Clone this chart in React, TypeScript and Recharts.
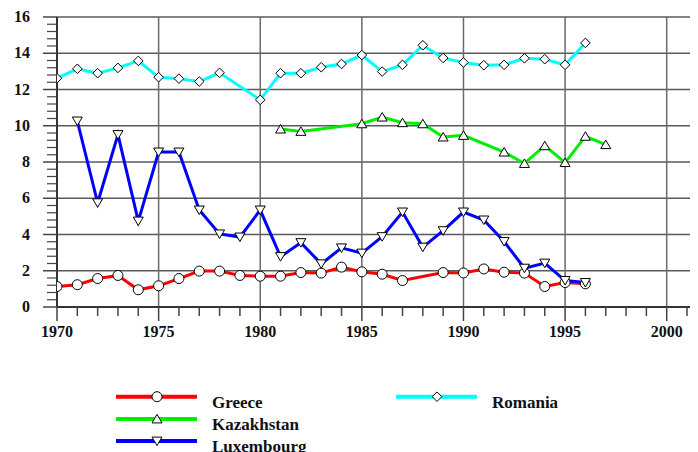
import React from "react";
import { LineChart, Line, XAxis, YAxis, ReferenceLine } from "recharts";

const years = [1970, 1971, 1972, 1973, 1974, 1975, 1976, 1977, 1978, 1979, 1980, 1981, 1982, 1983, 1984, 1985, 1986, 1987, 1988, 1989, 1990, 1991, 1992, 1993, 1994, 1995, 1996, 1997];
const greece = [1.13, 1.23, 1.57, 1.74, 0.95, 1.17, 1.57, 1.98, 1.98, 1.74, 1.7, 1.7, 1.9, 1.87, 2.2, 1.94, 1.81, 1.46, null, 1.9, 1.88, 2.1, 1.92, 1.87, 1.13, 1.35, 1.28, null];
const kazakhstan = [null, null, null, null, null, null, null, null, null, null, null, 9.82, 9.69, null, null, 10.11, 10.48, 10.17, 10.11, 9.38, 9.47, null, 8.55, 7.92, 8.9, 7.97, 9.42, 8.96];
const luxembourg = [null, 10.26, 5.75, 9.51, 4.74, 8.55, 8.55, 5.35, 4.03, 3.86, 5.35, 2.78, 3.55, 2.38, 3.26, 2.97, 3.88, 5.24, 3.3, 4.21, 5.24, 4.8, 3.61, 2.14, 2.42, 1.46, 1.35, null];
const romania = [12.62, 13.14, 12.9, 13.19, 13.58, 12.68, 12.6, 12.44, 12.92, null, 11.43, 12.9, 12.9, 13.23, 13.41, 13.9, 12.99, 13.36, 14.44, 13.74, 13.49, 13.34, 13.36, 13.72, 13.67, 13.36, 14.57, null];

const xMajorTicks = [1970, 1975, 1980, 1985, 1990, 1995, 2000];
const yMajorTicks = [0, 2, 4, 6, 8, 10, 12, 14, 16];

const data = years.map((year, i) => ({
  year,
  Greece: greece[i],
  Kazakhstan: kazakhstan[i],
  Luxembourg: luxembourg[i],
  Romania: romania[i],
}));

const xTicks: number[] = [];
for (let y = 1970; y <= 2004; y++) xTicks.push(y);
const yTicks: number[] = [];
for (let k = 0; k <= 40; k++) yTicks.push(Math.round(k * 4) / 10);

const FONT = '"Liberation Serif", "DejaVu Serif", serif';
const textStyle = { fontFamily: FONT, fontWeight: 700 } as const;

type MarkerKind = "circle" | "up" | "down" | "diamond";

function Marker({ kind, cx, cy }: { kind: MarkerKind; cx: number; cy: number }) {
  const common = { fill: "#fff", stroke: "#000", strokeWidth: 1 };
  if (kind === "circle") return <circle cx={cx} cy={cy} r={5} {...common} />;
  if (kind === "up")
    return <polygon points={`${cx},${cy - 4.5} ${cx - 5},${cy + 4} ${cx + 5},${cy + 4}`} {...common} />;
  if (kind === "down")
    return <polygon points={`${cx},${cy + 4.5} ${cx - 5},${cy - 4} ${cx + 5},${cy - 4}`} {...common} />;
  return <polygon points={`${cx},${cy - 4.8} ${cx + 4.8},${cy} ${cx},${cy + 4.8} ${cx - 4.8},${cy}`} {...common} />;
}

const series: { key: string; color: string; marker: MarkerKind }[] = [
  { key: "Greece", color: "#ff0000", marker: "circle" },
  { key: "Kazakhstan", color: "#00ee00", marker: "up" },
  { key: "Luxembourg", color: "#0000ff", marker: "down" },
  { key: "Romania", color: "#00ffff", marker: "diamond" },
];

const makeDot = (kind: MarkerKind) => (props: any) => {
  const { cx, cy, index, value } = props;
  if (cx == null || cy == null || value == null || Number.isNaN(cy)) return <g key={`d${index}`} />;
  return (
    <g key={`d${index}`}>
      <Marker kind={kind} cx={cx} cy={cy} />
    </g>
  );
};

const XTick = (props: any) => {
  const { x, y, payload } = props;
  const v = payload.value;
  const major = xMajorTicks.includes(v);
  return (
    <g>
      <line x1={x} x2={x} y1={y} y2={y + (major ? 14 : 9)} stroke="#444" strokeWidth={1.5} />
      {major && (
        <text x={x} y={y + 30} textAnchor="middle" style={textStyle} fontSize={16} fill="#111">
          {v}
        </text>
      )}
    </g>
  );
};

const YTick = (props: any) => {
  const { x, y, payload } = props;
  const v = payload.value;
  const major = yMajorTicks.some((m) => Math.abs(m - v) < 1e-6);
  return (
    <g>
      <line x1={x - (major ? 14 : 10)} x2={x} y1={y} y2={y} stroke="#444" strokeWidth={major ? 1.5 : 1.2} />
      {major && (
        <text x={x - 27} y={y + 5} textAnchor="end" style={textStyle} fontSize={16} fill="#111">
          {Math.round(v)}
        </text>
      )}
    </g>
  );
};

function LegendOverlay() {
  const rows = [
    { s: series[0], lx: 108, ly: 388.7, tx: 204 },
    { s: series[1], lx: 108, ly: 410.9, tx: 204 },
    { s: series[2], lx: 108, ly: 433.1, tx: 204 },
    { s: series[3], lx: 388, ly: 388.7, tx: 484 },
  ];
  return (
    <svg width={690} height={444} style={{ position: "absolute", left: 0, top: 0, pointerEvents: "none" }}>
      {rows.map(({ s, lx, ly, tx }) => (
        <g key={s.key}>
          <line x1={lx} x2={lx + 81} y1={ly} y2={ly} stroke={s.color} strokeWidth={4} />
          <Marker kind={s.marker} cx={lx + 41} cy={ly} />
          <text x={tx} y={ly + 11} style={textStyle} fontSize={17} fill="#111">
            {s.key}
          </text>
        </g>
      ))}
    </svg>
  );
}

export default function App() {
  return (
    <div style={{ position: "relative", width: 690, height: 444, overflow: "hidden" }}>
      <LineChart width={760} height={444} data={data} margin={{ top: 9, right: 20, bottom: 115, left: 0 }}>
        {yMajorTicks.filter((v) => v > 0).map((v) => (
          <ReferenceLine key={`h${v}`} y={v} stroke="#5a5a5a" strokeWidth={1.5} />
        ))}
        {xMajorTicks.filter((v) => v > 1970).map((v) => (
          <ReferenceLine key={`v${v}`} x={v} stroke="#6a6a6a" strokeWidth={1.5} />
        ))}
        <ReferenceLine y={0} stroke="#333" strokeWidth={2} />
        <XAxis
          type="number"
          dataKey="year"
          domain={[1970, 2004]}
          ticks={xTicks}
          interval={0}
          allowDataOverflow
          axisLine={false}
          tickLine={false}
          tickSize={0}
          tickMargin={0}
          height={30}
          tick={<XTick />}
        />
        <YAxis
          type="number"
          domain={[0, 16]}
          ticks={yTicks}
          interval={0}
          width={49}
          axisLine={{ stroke: "#333", strokeWidth: 2 }}
          tickLine={false}
          tickSize={0}
          tickMargin={0}
          tick={<YTick />}
        />
        {series.map((s) => (
          <Line
            key={s.key}
            type="linear"
            dataKey={s.key}
            stroke={s.color}
            strokeWidth={3}
            connectNulls
            isAnimationActive={false}
            dot={makeDot(s.marker)}
            activeDot={false}
          />
        ))}
      </LineChart>
      <LegendOverlay />
    </div>
  );
}
